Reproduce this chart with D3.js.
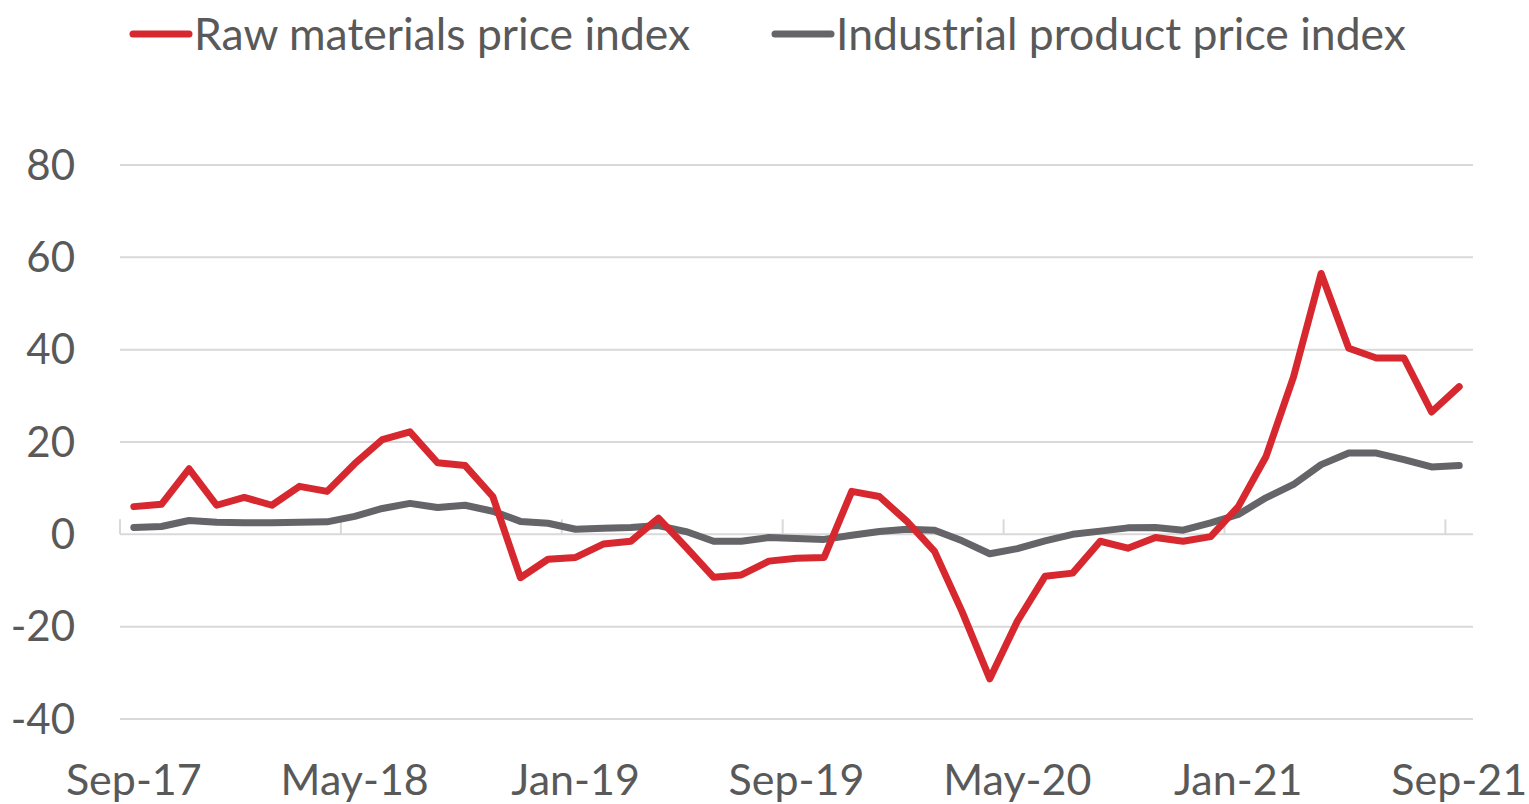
<!DOCTYPE html>
<html>
<head>
<meta charset="utf-8">
<script src="https://cdn.jsdelivr.net/npm/d3@7"></script>
<style>
  body { margin: 0; background: #fff; }
  svg text { font-family: Lato, "Open Sans", sans-serif; fill: #595959; }
</style>
</head>
<body>
<svg id="chart" width="1529" height="804"></svg>
<script>
// monthly, Sep-17 .. Sep-21
const months = ["Sep-17","Oct-17","Nov-17","Dec-17","Jan-18","Feb-18","Mar-18","Apr-18","May-18","Jun-18","Jul-18","Aug-18",
  "Sep-18","Oct-18","Nov-18","Dec-18","Jan-19","Feb-19","Mar-19","Apr-19","May-19","Jun-19","Jul-19","Aug-19",
  "Sep-19","Oct-19","Nov-19","Dec-19","Jan-20","Feb-20","Mar-20","Apr-20","May-20","Jun-20","Jul-20","Aug-20",
  "Sep-20","Oct-20","Nov-20","Dec-20","Jan-21","Feb-21","Mar-21","Apr-21","May-21","Jun-21","Jul-21","Aug-21","Sep-21"]

const rawMaterials = [6.0, 6.5, 14.2, 6.3, 8.0, 6.3, 10.4, 9.3, 15.3, 20.5, 22.2, 15.5,
  14.9, 8.2, -9.4, -5.4, -5.0, -2.1, -1.5, 3.5, -2.8, -9.3, -8.8, -5.8,
  -5.2, -5.0, 9.3, 8.2, 2.8, -3.7, -16.8, -31.3, -18.8, -9.1, -8.4, -1.5,
  -3.0, -0.7, -1.5, -0.5, 6.0, 16.8, 34.1, 56.5, 40.3, 38.2, 38.2, 26.5, 32.0]

const industrial = [1.5, 1.7, 3.0, 2.6, 2.5, 2.5, 2.6, 2.7, 3.9, 5.6, 6.7, 5.8,
  6.3, 5.0, 2.8, 2.4, 1.1, 1.3, 1.5, 1.9, 0.6, -1.5, -1.5, -0.7,
  -0.9, -1.1, -0.2, 0.6, 1.1, 0.9, -1.4, -4.2, -3.1, -1.4, 0.0, 0.7,
  1.4, 1.5, 0.9, 2.5, 4.3, 7.9, 10.8, 15.1, 17.6, 17.6, 16.2, 14.6, 14.9]

const yTicks = [-40, -20, 0, 20, 40, 60, 80]
const xTickLabels = ["Sep-17", "May-18", "Jan-19", "Sep-19", "May-20", "Jan-21", "Sep-21"]

const series = [
  { name: "Raw materials price index", values: rawMaterials, color: "#d7282f" },
  { name: "Industrial product price index", values: industrial, color: "#646469" }
]

const svg = d3.select("#chart")
const L = 120, R = 1473, T = 165, B = 719

const x = d3.scaleBand().domain(months).range([L, R])
const y = d3.scaleLinear().domain([-40, 80]).range([B, T])

// gridlines
svg.append("g")
  .selectAll("line")
  .data(yTicks)
  .enter()
  .append("line")
  .attr("x1", L).attr("x2", R)
  .attr("y1", d => y(d)).attr("y2", d => y(d))
  .attr("stroke", "#d9d9d9")
  .attr("stroke-width", 2)

// y labels
svg.append("g")
  .selectAll("text")
  .data(yTicks)
  .enter()
  .append("text")
  .attr("x", 75)
  .attr("y", d => y(d))
  .attr("dy", "0.35em")
  .attr("text-anchor", "end")
  .attr("font-size", 42)
  .text(d => d)

// x tick marks every 8 months, on the zero line
const tickMonths = months.filter((m, i) => i % 8 == 0)
svg.append("g")
  .selectAll("line")
  .data(tickMonths)
  .enter()
  .append("line")
  .attr("x1", d => x(d)).attr("x2", d => x(d))
  .attr("y1", y(0) - 15).attr("y2", y(0))
  .attr("stroke", "#d9d9d9")
  .attr("stroke-width", 2)

svg.append("g")
  .selectAll("text")
  .data(xTickLabels)
  .enter()
  .append("text")
  .attr("x", d => x(d) + x.bandwidth() / 2)
  .attr("y", 795)
  .attr("text-anchor", "middle")
  .attr("font-size", 43)
  .text(d => d)

// lines
const line = d3.line()
  .x((d, i) => x(months[i]) + x.bandwidth() / 2)
  .y(d => y(d))

svg.append("g")
  .selectAll("path")
  .data(series.slice().reverse())
  .enter()
  .append("path")
  .attr("d", d => line(d.values))
  .attr("fill", "none")
  .attr("stroke", d => d.color)
  .attr("stroke-width", 7)
  .attr("stroke-linejoin", "round")
  .attr("stroke-linecap", "round")

// legend
const legendX = [133, 775]
const lg = svg.append("g")
  .selectAll("g")
  .data(series)
  .enter()
  .append("g")
  .attr("transform", (d, i) => "translate(" + legendX[i] + ",34)")
lg.append("line")
  .attr("x1", 0).attr("x2", 56)
  .attr("stroke", d => d.color)
  .attr("stroke-width", 7)
  .attr("stroke-linecap", "round")
lg.append("text")
  .attr("x", 61)
  .attr("dy", "0.35em")
  .attr("font-size", 44.5)
  .text(d => d.name)
</script>
</body>
</html>
